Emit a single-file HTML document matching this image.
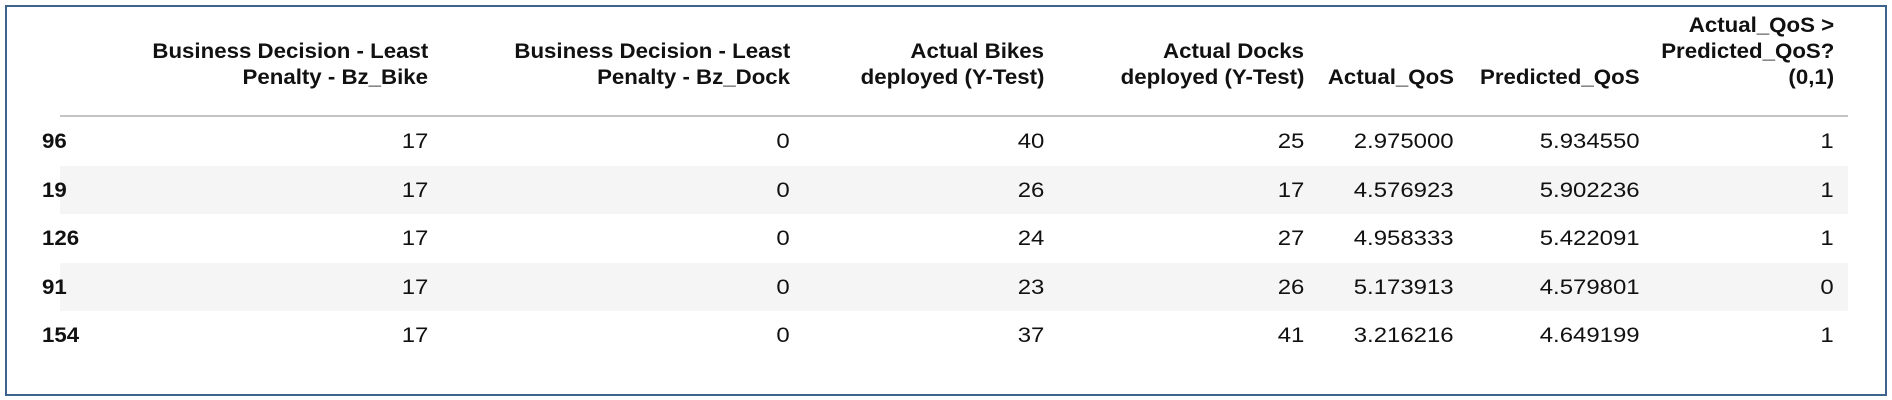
<!DOCTYPE html>
<html><head><meta charset="utf-8"><style>
html,body{margin:0;padding:0;background:#fff;}
#wrap{position:relative;width:1892px;height:400px;overflow:hidden;background:#fff;font-family:"Liberation Sans",Arial,sans-serif;color:#111;}
#frame{position:absolute;left:5px;top:5px;width:1878px;height:387px;border:2.5px solid #3d648c;}
.cell{position:absolute;white-space:nowrap;font-size:21px;line-height:26px;}
.cell span{display:inline-block;transform:scaleX(1.14);}
.cell.b span{transform:scaleX(1.06);}
.r{text-align:right;}
.r span{transform-origin:right center;}
.l span{transform-origin:left center;}
.b{font-weight:bold;}
.stripe{position:absolute;left:60px;width:1788px;height:48px;background:#f5f5f5;}
#hline{position:absolute;left:60px;top:115px;width:1788px;height:2px;background:#c4c4c4;}
</style></head><body>
<div id="wrap">
<div id="frame"></div>
<div id="hline"></div>
</div>
<script>
const headers=[["Business Decision - Least","Penalty - Bz_Bike"],["Business Decision - Least","Penalty - Bz_Dock"],["Actual Bikes","deployed (Y-Test)"],["Actual Docks","deployed (Y-Test)"],["Actual_QoS"],["Predicted_QoS"],["Actual_QoS >","Predicted_QoS?","(0,1)"]];
const indexLabels=["96","19","126","91","154"];
const bzBike=["17","17","17","17","17"];
const bzDock=["0","0","0","0","0"];
const bikes=["40","26","24","23","37"];
const docks=["25","17","27","26","41"];
const actualQos=["2.975000","4.576923","4.958333","5.173913","3.216216"];
const predQos=["5.934550","5.902236","5.422091","4.579801","4.649199"];
const flag=["1","1","1","0","1"];
const columns=[bzBike,bzDock,bikes,docks,actualQos,predQos,flag];
const colRight=[428,790,1044,1304,1454,1640,1834];
const rowTop=117,rowH=48.5;
const wrap=document.getElementById('wrap');
function mk(cls,txt,x,y,right){
  const d=document.createElement('div');d.className='cell '+cls;
  const s=document.createElement('span');s.textContent=txt;d.appendChild(s);
  if(right){d.style.right=(1892-x)+'px';}else{d.style.left=x+'px';}
  d.style.top=y+'px';wrap.appendChild(d);return d;
}
for(let i=0;i<indexLabels.length;i++){
  if(i%2===1){const st=document.createElement('div');st.className='stripe';st.style.top=(rowTop+i*rowH)+'px';
  
  
  wrap.appendChild(st);}
}
headers.forEach((h,c)=>{
  const n=h.length;
  h.forEach((line,k)=>{
    const y=78-(n-1-k)*26-13;
    const el=mk('r b',line,colRight[c],y,true);
    
    
  });
});
indexLabels.forEach((lab,i)=>{
  const y=rowTop+i*rowH+rowH/2-12;
  const el=mk('l b',lab,42,y,false);
  
  
  columns.forEach((col,c)=>{
    const e=mk('r',col[i],colRight[c],y,true);
    
    
  });
});
</script>
</body></html>
